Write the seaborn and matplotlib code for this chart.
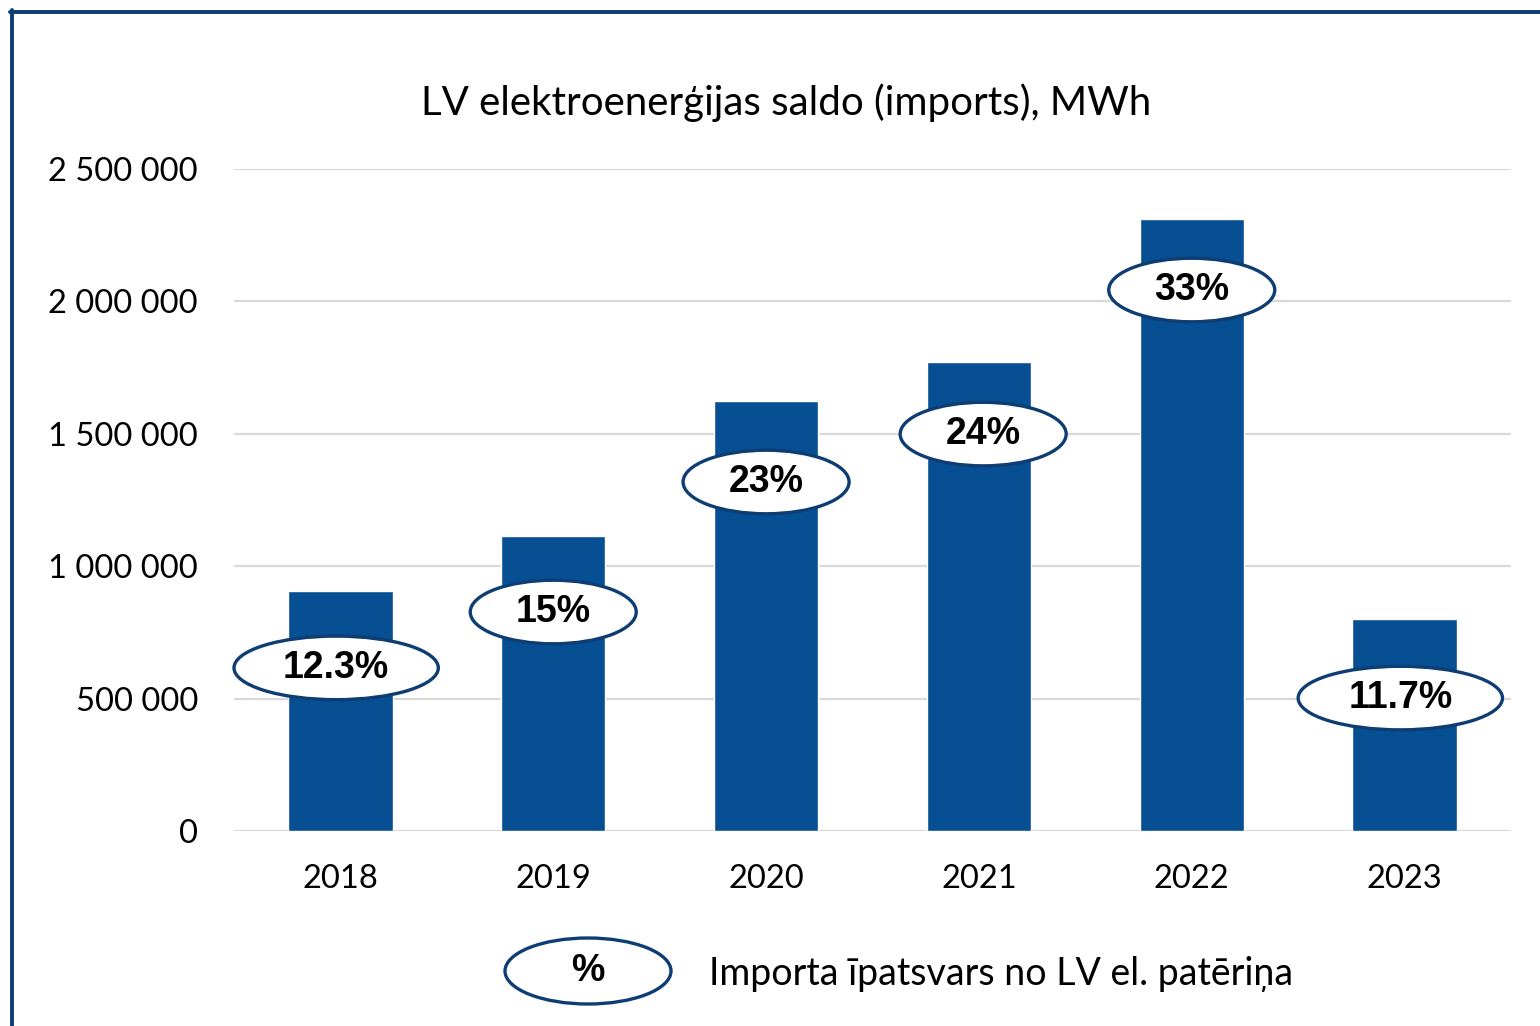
import matplotlib
matplotlib.use("Agg")
import matplotlib.pyplot as plt
from matplotlib.patches import Ellipse
from matplotlib.lines import Line2D
import seaborn as sns
import pandas as pd

# dati no attēla (nolasīti aptuveni)
years = ["2018", "2019", "2020", "2021", "2022", "2023"]
saldo_mwh = [906000, 1114000, 1624000, 1771000, 2311000, 800000]
share_labels = ["12.3%", "15%", "23%", "24%", "33%", "11.7%"]
label_y = [616000, 827000, 1318000, 1499000, 2043000, 502000]
label_dx = [-0.02, 0.0, 0.0, 0.02, 0.0, -0.02]
ell_w = [0.96, 0.78, 0.78, 0.78, 0.78, 0.96]

bar_color = "#064f93"
edge_color = "#0d3d72"

sns.set_style("white")
plt.rcParams["font.family"] = ["Lato", "DejaVu Sans"]
plt.rcParams["text.color"] = "black"

df = pd.DataFrame({"year": years, "mwh": saldo_mwh})

fig = plt.figure(figsize=(15.4, 10.26), dpi=100)
ax = fig.add_axes([234 / 1540, 1 - 831 / 1026, 1277 / 1540, 662 / 1026])

sns.barplot(data=df, x="year", y="mwh", color=bar_color, saturation=1,
            width=0.49, ax=ax, zorder=2)

ax.set_ylim(0, 2500000)
ax.set_xlim(-0.5, 5.5)
ax.set_yticks([0, 500000, 1000000, 1500000, 2000000, 2500000])
ax.set_yticklabels(["0", "500 000", "1 000 000", "1 500 000", "2 000 000", "2 500 000"])
ax.yaxis.grid(True, color="#d9d9d9", linewidth=1.6, zorder=0)
ax.set_axisbelow(True)
for s in ax.spines.values():
    s.set_visible(False)
ax.tick_params(axis="both", length=0, labelsize=23.5, colors="black")
ax.tick_params(axis="y", pad=26)
ax.tick_params(axis="x", pad=24)
ax.set_xlabel("")
ax.set_ylabel("")

# procentu elipses
for i, lab in enumerate(share_labels):
    cx = i + label_dx[i]
    e = Ellipse((cx, label_y[i]), ell_w[i], 240000, facecolor="white",
                edgecolor=edge_color, linewidth=2.4, zorder=4, clip_on=False)
    ax.add_patch(e)
    ax.text(cx, label_y[i], lab, ha="center", va="center", fontsize=27,
            fontweight="bold", color="black",
            family=["Liberation Sans", "DejaVu Sans"], zorder=5)

fig.text(786 / 1540, 1 - 103 / 1026, "LV elektroenerģijas saldo (imports), MWh",
         ha="center", va="center", fontsize=29, color="black")

# leģenda
fig.patches.append(Ellipse((588 / 1540, 1 - 971 / 1026), 166 / 1540, 66 / 1026,
                           transform=fig.transFigure, facecolor="white",
                           edgecolor=edge_color, linewidth=2.4))
fig.text(588 / 1540, 1 - 971 / 1026, "%", ha="center", va="center", fontsize=27,
         fontweight="bold", color="black", family=["Liberation Sans", "DejaVu Sans"])
fig.text(709 / 1540, 1 - 974 / 1026, "Importa īpatsvars no LV el. patēriņa",
         ha="left", va="center", fontsize=27, color="black")

# rāmis (augša un kreisā mala)
fig.lines.append(Line2D([11.5 / 1540, 11.5 / 1540], [0, 1 - 10 / 1026],
                        transform=fig.transFigure, color=edge_color, linewidth=2.8))
fig.lines.append(Line2D([10 / 1540, 1], [1 - 11.5 / 1026, 1 - 11.5 / 1026],
                        transform=fig.transFigure, color=edge_color, linewidth=2.8))

fig.savefig("out.png", dpi=100, facecolor="white")
